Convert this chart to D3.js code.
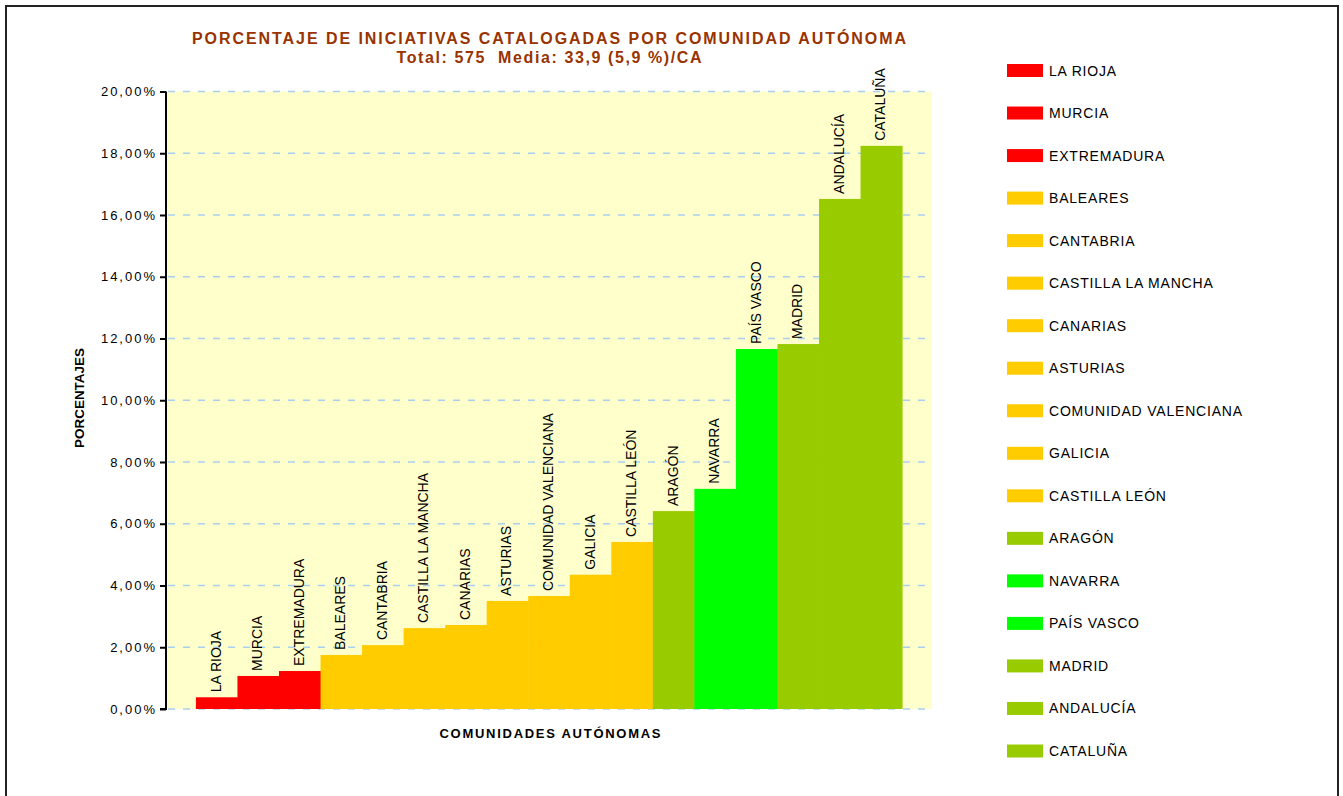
<!DOCTYPE html>
<html>
<head>
<meta charset="utf-8">
<script src="https://cdn.jsdelivr.net/npm/d3@7"></script>
<style>
  body { margin: 0; background: #fff; }
  text { font-family: "Liberation Sans", Arial, sans-serif; }
</style>
</head>
<body>
<div id="chart"></div>
<script>
// data (percentage of 575 catalogued initiatives)
const regions = ["LA RIOJA", "MURCIA", "EXTREMADURA", "BALEARES", "CANTABRIA",
    "CASTILLA LA MANCHA", "CANARIAS", "ASTURIAS", "COMUNIDAD VALENCIANA", "GALICIA",
    "CASTILLA LEÓN", "ARAGÓN", "NAVARRA", "PAÍS VASCO", "MADRID", "ANDALUCÍA", "CATALUÑA"];
const percents = [0.38, 1.07, 1.23, 1.75, 2.07, 2.62, 2.72, 3.50, 3.66, 4.35,
    5.41, 6.41, 7.13, 11.66, 11.82, 16.52, 18.24];
const barColors = ["#FF0000", "#FF0000", "#FF0000", "#FFCC00", "#FFCC00", "#FFCC00",
    "#FFCC00", "#FFCC00", "#FFCC00", "#FFCC00", "#FFCC00", "#99CC00", "#00FF00",
    "#00FF00", "#99CC00", "#99CC00", "#99CC00"];
const yTicks = [0, 2, 4, 6, 8, 10, 12, 14, 16, 18, 20];

const W = 1343, H = 796;
const plot = {left: 166, right: 932, top: 91.5, bottom: 709};

const svg = d3.select("#chart")
    .append("svg")
    .attr("width", W)
    .attr("height", H);

// outer frame
svg.append("rect")
    .attr("x", 6).attr("y", 6)
    .attr("width", 1332).attr("height", 820)
    .attr("fill", "none")
    .attr("stroke", "#222")
    .attr("stroke-width", 2);

// titles
svg.append("text")
    .attr("x", 549).attr("y", 44)
    .attr("text-anchor", "middle")
    .attr("textLength", 714)
    .attr("lengthAdjust", "spacing")
    .style("font-size", "16px").style("font-weight", "bold")
    .attr("fill", "#993300")
    .text("PORCENTAJE DE INICIATIVAS CATALOGADAS POR COMUNIDAD AUTÓNOMA");

svg.append("text")
    .attr("x", 549).attr("y", 63)
    .attr("text-anchor", "middle")
    .attr("textLength", 305)
    .attr("lengthAdjust", "spacing")
    .style("font-size", "16px").style("font-weight", "bold")
    .attr("fill", "#993300")
    .style("white-space", "pre")
    .text("Total: 575  Media: 33,9 (5,9 %)/CA");

// scales
const x = d3.scaleBand()
    .domain(regions)
    .range([plot.left, plot.right])
    .paddingInner(0)
    .paddingOuter(0.72);

const y = d3.scaleLinear()
    .domain([0, 20])
    .range([plot.bottom, plot.top]);

// plot background
svg.append("rect")
    .attr("x", plot.left).attr("y", y(20))
    .attr("width", plot.right - plot.left)
    .attr("height", y(0) - y(20))
    .attr("fill", "#FFFFCC");

// gridlines
svg.append("g")
    .selectAll("line")
    .data(yTicks)
    .join("line")
    .attr("x1", plot.left + 2).attr("x2", plot.right)
    .attr("y1", d => y(d)).attr("y2", d => y(d))
    .attr("stroke", "#A9CFEF")
    .attr("stroke-width", 1.5)
    .attr("stroke-dasharray", "7,8");

// bars
svg.append("g")
    .selectAll("rect")
    .data(regions)
    .join("rect")
    .attr("x", d => x(d))
    .attr("y", (d, i) => y(percents[i]))
    .attr("width", x.bandwidth() + 0.5)
    .attr("height", (d, i) => y(0) - y(percents[i]))
    .attr("fill", (d, i) => barColors[i]);

// labels above bars
svg.append("g")
    .selectAll("text")
    .data(regions)
    .join("text")
    .attr("transform", (d, i) =>
        `translate(${x(d) + x.bandwidth() / 2 + 4},${y(percents[i]) - 5}) rotate(-90)`)
    .style("font-size", "14px")
    .attr("fill", "#000")
    .text(d => d);

// y axis
const fmt = d3.formatLocale({decimal: ",", thousands: ".", grouping: [3], currency: ["", "€"]}).format(".2f");
const yAxis = svg.append("g")
    .attr("transform", `translate(${plot.left},0)`)
    .call(d3.axisLeft(y).tickValues(yTicks).tickSize(6).tickPadding(3)
        .tickFormat(d => fmt(d) + "%"));
yAxis.select(".domain")
    .attr("stroke", "#000")
    .attr("stroke-width", 2)
    .attr("d", `M-6,${y(0)}H0V${y(20)}`);
yAxis.selectAll(".tick line")
    .attr("stroke", "#000")
    .attr("stroke-width", 2);
yAxis.selectAll(".tick text")
    .style("font-size", "13px")
    .style("letter-spacing", "2px")
    .attr("fill", "#000");

// axis titles
svg.append("text")
    .attr("transform", "translate(84,398) rotate(-90)")
    .attr("text-anchor", "middle")
    .attr("textLength", 100)
    .attr("lengthAdjust", "spacingAndGlyphs")
    .style("font-size", "13px").style("font-weight", "bold")
    .text("PORCENTAJES");

svg.append("text")
    .attr("x", 550).attr("y", 738)
    .attr("text-anchor", "middle")
    .attr("textLength", 221)
    .attr("lengthAdjust", "spacing")
    .style("font-size", "13px").style("font-weight", "bold")
    .text("COMUNIDADES AUTÓNOMAS");

// legend
const legendY = d3.scalePoint()
    .domain(regions)
    .range([70.5, 751]);

const legend = svg.append("g")
    .selectAll("g")
    .data(regions)
    .join("g")
    .attr("transform", d => `translate(1007,${legendY(d)})`);

legend.append("rect")
    .attr("x", 0).attr("y", -6.5)
    .attr("width", 36).attr("height", 13)
    .attr("fill", (d, i) => barColors[i]);

legend.append("text")
    .attr("x", 42).attr("y", 5)
    .style("font-size", "14px")
    .style("letter-spacing", "0.8px")
    .attr("fill", "#000")
    .text(d => d);
</script>
</body>
</html>
